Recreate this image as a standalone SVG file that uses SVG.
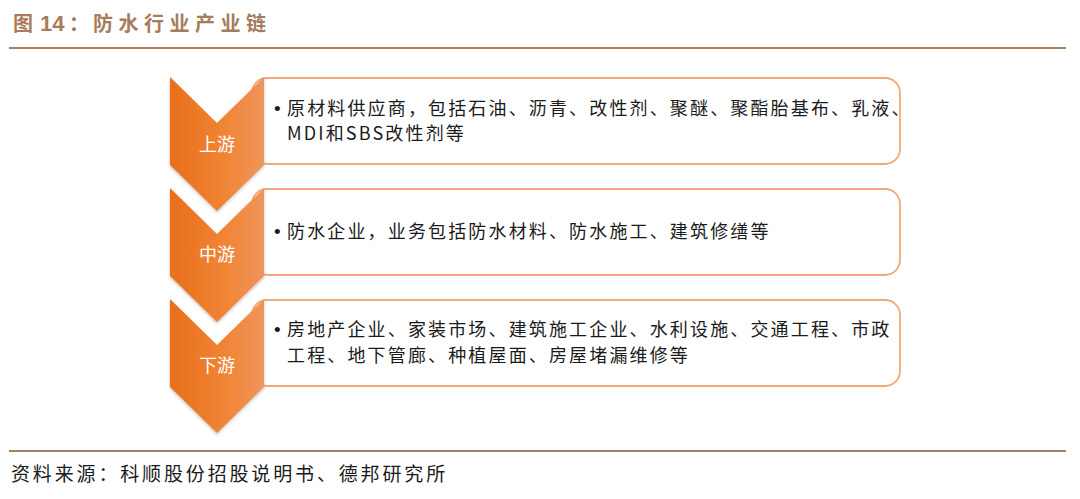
<svg xmlns="http://www.w3.org/2000/svg" width="1080" height="499" viewBox="0 0 1080 499">
<style>
.title{font-family:"Noto Sans CJK SC","Noto Sans",sans-serif;font-size:20px;fill:#a67c5c;font-weight:bold}
.box{fill:#ffffff;stroke:#f5a877;stroke-width:1.8}
.chev{fill:url(#og);filter:url(#sh)}
.lbl{font-family:"Noto Sans CJK SC",sans-serif;font-size:18px;fill:#ffffff;text-anchor:middle}
.txt{font-family:"Noto Sans CJK SC",sans-serif;font-size:18px;fill:#1a1a1a;letter-spacing:2.15px}
.bul{font-family:"Liberation Sans",sans-serif;font-size:19px;fill:#1a1a1a}
.rule{stroke:#a88160;stroke-width:2.2}
.foot{font-family:"Noto Sans CJK SC",sans-serif;font-size:19px;fill:#1a1a1a;letter-spacing:2.85px}
</style>
<defs>
<linearGradient id="og" x1="0" y1="0" x2="1" y2="0">
<stop offset="0" stop-color="#e96f1b"/>
<stop offset="0.6" stop-color="#f08536"/>
<stop offset="1" stop-color="#f0955c"/>
</linearGradient>
<filter id="sh" x="-20%" y="-20%" width="140%" height="140%">
<feDropShadow dx="0" dy="1.5" stdDeviation="1.5" flood-color="#000" flood-opacity="0.25"/>
</filter>
</defs>
<rect width="1080" height="499" fill="#ffffff"/>
<g id="title">
<text class="title" y="31"><tspan x="13">图</tspan><tspan x="40" font-family="Liberation Sans,sans-serif" font-size="22">14</tspan><tspan x="69">：</tspan><tspan x="93" letter-spacing="5.5">防水行业产业链</tspan></text>
</g>
<line class="rule" x1="9" y1="48" x2="1066" y2="48"/>
<g id="upstream">
<rect class="box" x="252" y="78" width="648" height="86" rx="15"/>
<path class="chev" d="M170,77 L217,123 L264,77 L264,165 L217,211 L170,165 Z"/>
<text class="lbl" x="217" y="151">上游</text>
<text class="bul" x="274" y="115">•</text>
<text class="txt" x="287" y="115">原材料供应商，包括石油、沥青、改性剂、聚醚、聚酯胎基布、乳液、</text>
<text class="txt" x="287" y="140">MDI和SBS改性剂等</text>
</g>
<g id="midstream">
<rect class="box" x="252" y="189" width="648" height="86" rx="15"/>
<path class="chev" d="M170,188 L217,234 L264,188 L264,276 L217,322 L170,276 Z"/>
<text class="lbl" x="217" y="261">中游</text>
<text class="bul" x="274" y="238">•</text>
<text class="txt" x="287" y="238">防水企业，业务包括防水材料、防水施工、建筑修缮等</text>
</g>
<g id="downstream">
<rect class="box" x="252" y="300" width="648" height="86" rx="15"/>
<path class="chev" d="M170,299 L217,345 L264,299 L264,387 L217,433 L170,387 Z"/>
<text class="lbl" x="217" y="372">下游</text>
<text class="bul" x="274" y="336">•</text>
<text class="txt" x="287" y="336">房地产企业、家装市场、建筑施工企业、水利设施、交通工程、市政</text>
<text class="txt" x="287" y="362">工程、地下管廊、种植屋面、房屋堵漏维修等</text>
</g>
<g id="connectors"></g>
<line class="rule" x1="9" y1="451" x2="1066" y2="451"/>
<g id="source">
<text class="foot" x="11" y="481">资料来源：科顺股份招股说明书、德邦研究所</text>
</g>
</svg>
